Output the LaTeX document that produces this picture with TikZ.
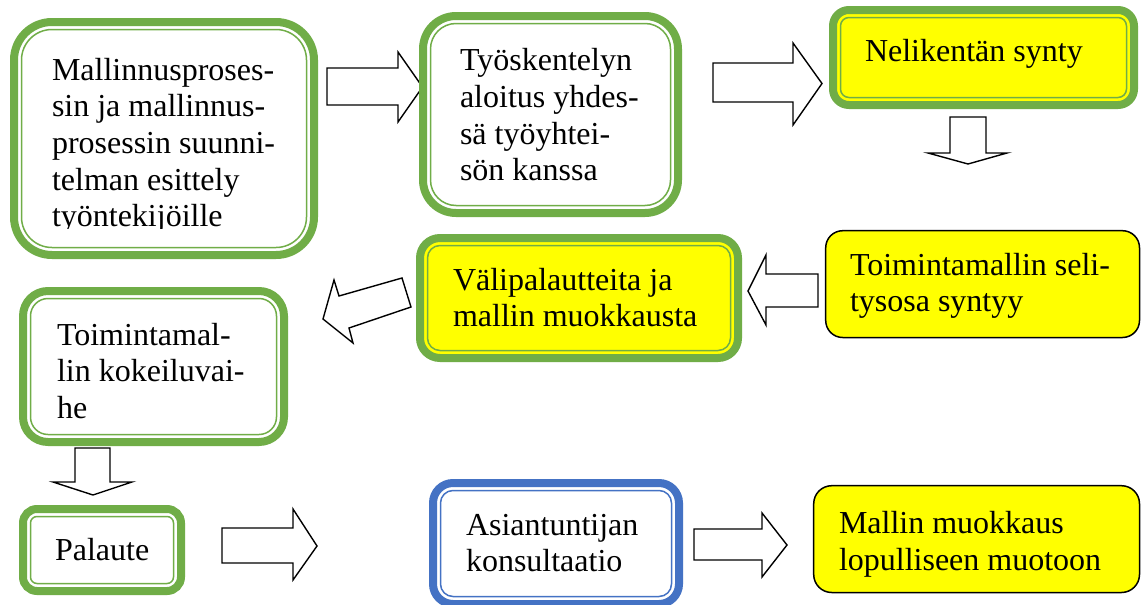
\documentclass[tikz,border=0pt]{standalone}
\usepackage{fontspec}
\setmainfont{Liberation Serif}
\usetikzlibrary{fit}
\definecolor{gr}{HTML}{70AD47}
\definecolor{bl}{HTML}{4472C4}
\definecolor{yl}{HTML}{FFFF00}
\newcommand\txtlines[1]{\vtop{\baselineskip=36.7pt\lineskiplimit=-100pt\halign{##\hfil\cr#1\crcr}}}
% #1 name, #2 colour, #3 fill, #4 corner, #5 corner, #6 outer radius, #7 inner radius
\newcommand\dblbox[7]{%
  \node[dblbase, draw=#2, fill=#3, rounded corners=#6, fit={#4 #5}] (#1) {};
  \draw[#2, line width=1.5pt, rounded corners=#7]
    ([shift={(7.5pt,-7.5pt)}]#1.north west) rectangle ([shift={(-7.5pt,7.5pt)}]#1.south east);}
\begin{document}
\begin{tikzpicture}[x=1pt, y=-1pt,
  dblbase/.style={line width=8pt, inner sep=0pt, outer sep=0pt},
  thinbox/.style={draw=black, line width=1.5pt, fill=yl, inner sep=0pt, outer sep=0pt},
  blockarrow/.style={draw=black, line width=1.4pt, fill=white, line join=miter},
  txt/.style={anchor=base west, inner sep=0pt, outer sep=0pt, font=\fontsize{32}{36.7}\selectfont}]
\useasboundingbox (0,0) rectangle (1141,605);
\fill[white] (0,0) rectangle (1141,605);

% block arrows
\draw[blockarrow] (327,68) -- (398,68) -- (398,52) -- (422.5,87) -- (398,122) -- (398,105) -- (327,105) -- cycle;
\draw[blockarrow] (713,63) -- (793,63) -- (793,43) -- (822,83.5) -- (793,125) -- (793,102) -- (713,102) -- cycle;
\draw[blockarrow] (950,117) -- (986,117) -- (986,153) -- (1007,153) -- (968,164) -- (928,153) -- (950,153) -- cycle;
\draw[blockarrow] (818,274) -- (766,274) -- (766,255) -- (748,291) -- (766,325) -- (766,307) -- (818,307) -- cycle;
\draw[blockarrow] (323,319) -- (334,280) -- (339,296) -- (402,278) -- (411,307) -- (349,328) -- (353,343) -- cycle;
\draw[blockarrow] (75,448) -- (110,448) -- (110,482) -- (132,482) -- (93,495) -- (53,482) -- (75,482) -- cycle;
\draw[blockarrow] (222,528) -- (293,528) -- (293,509) -- (317,546) -- (293,580) -- (293,563) -- (222,563) -- cycle;
\draw[blockarrow] (694,529) -- (762,529) -- (762,513) -- (787,545) -- (762,577) -- (762,560) -- (694,560) -- cycle;

% boxes
\dblbox{b1}{gr}{white}{(14,22)}{(314,255)}{38pt}{30.5pt}
\dblbox{b2}{gr}{white}{(423,16)}{(678,213)}{33pt}{25.5pt}
\dblbox{b3}{gr}{yl}{(833,10)}{(1134,105)}{16pt}{8.5pt}
\dblbox{b4}{gr}{yl}{(420,238)}{(738,358)}{20pt}{12.5pt}
\node[thinbox, rounded corners=17pt, fit={(825.7,230.7) (1139.5,337.5)}] (b5) {};
\dblbox{b6}{gr}{white}{(23,291)}{(284,442)}{25pt}{17.5pt}
\dblbox{b7}{gr}{white}{(23,509)}{(181,591)}{14pt}{6.5pt}
\dblbox{b8}{bl}{white}{(433,483)}{(679,604)}{20pt}{12.5pt}
\node[thinbox, rounded corners=18pt, fit={(813.7,485.7) (1139.5,592.5)}] (b9) {};

% texts
\begin{scope}
\clip (0,0) rectangle (1141,228);
\node[txt] (t1) at (52,80) {\txtlines{Mallinnusproses-\cr sin ja mallinnus-\cr prosessin suunni-\cr telman esittely\cr työntekijöille}};
\end{scope}
\node[txt] (t2) at (460,70.7) {\txtlines{Työskentelyn\cr aloitus yhdes-\cr sä työyhtei-\cr sön kanssa}};
\node[txt] (t3) at (865,61.7) {Nelikentän synty};
\node[txt] (t4) at (453,290) {\txtlines{Välipalautteita ja\cr mallin muokkausta}};
\node[txt] (t5) at (850,275) {\txtlines{Toimintamallin seli-\cr tysosa syntyy}};
\node[txt] (t6) at (57,345) {\txtlines{Toimintamal-\cr lin kokeiluvai-\cr he}};
\node[txt] (t7) at (55,560) {Palaute};
\node[txt] (t8) at (466,535) {\txtlines{Asiantuntijan\cr konsultaatio}};
\node[txt] (t9) at (839,533.3) {\txtlines{Mallin muokkaus\cr lopulliseen muotoon}};
\end{tikzpicture}
\end{document}
